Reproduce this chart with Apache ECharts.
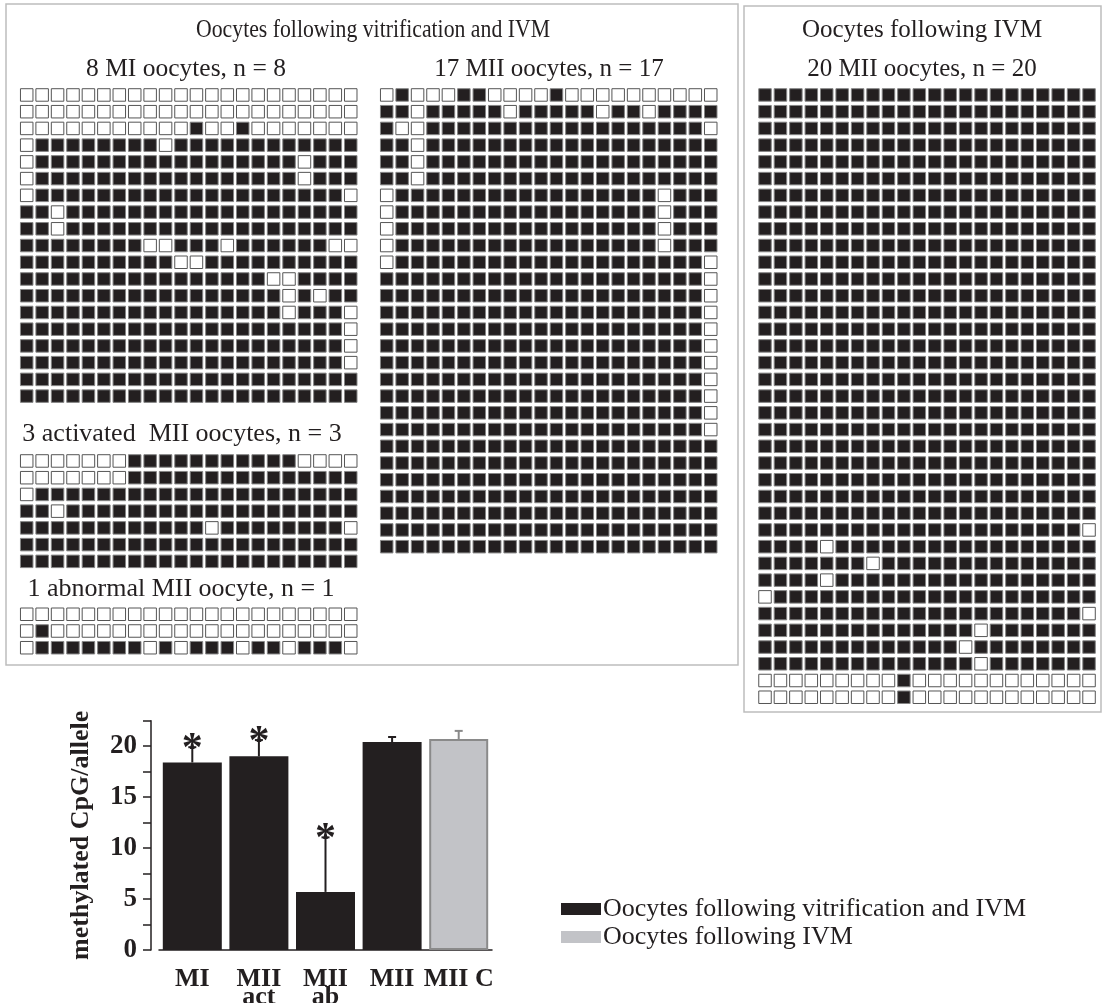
<!DOCTYPE html>
<html>
<head>
<meta charset="utf-8">
<script src="https://cdn.jsdelivr.net/npm/echarts@6/dist/echarts.min.js"></script>
<style>
  html, body { margin: 0; padding: 0; background: #fff; }
  #main { width: 1103px; height: 1003px; }
</style>
</head>
<body>
<div id="main"></div>
<script>
// 1 = methylated CpG (black), 0 = unmethylated (white); 22 CpGs per allele
var FULL = '1111111111111111111111';

var miRows = [
  '0000000000000000000000',
  '0000000000000000000000',
  '0000000000010010000000',
  '0111111110111111111111',
  '0111111111111111110111',
  '0111111111111111110111',
  '0111111111111111111110',
  '1101111111111111111111',
  '1101111111111111111111',
  '1111111100111011111100',
  '1111111111001111111111',
  '1111111111111111001111',
  '1111111111111111101011',
  '1111111111111111101110',
  '1111111111111111111110',
  '1111111111111111111110',
  '1111111111111111111110',
  FULL,
  FULL
];

var miiRows = [
  '0100011000010000000000',
  '1101111101111101101111',
  '1001111111111111111110',
  '1101111111111111111111',
  '1101111111111111111111',
  '1101111111111111111111',
  '0111111111111111110111',
  '0111111111111111110111',
  '0111111111111111110111',
  '0111111111111111110111',
  '0111111111111111111110',
  '1111111111111111111110',
  '1111111111111111111110',
  '1111111111111111111110',
  '1111111111111111111110',
  '1111111111111111111110',
  '1111111111111111111110',
  '1111111111111111111110',
  '1111111111111111111110',
  '1111111111111111111110',
  '1111111111111111111110',
  FULL, FULL, FULL, FULL, FULL, FULL, FULL
];

var actRows = [
  '0000000111111111110000',
  '0000000111111111111111',
  '0111111111111111111111',
  '1101111111111111111111',
  '1111111111110111111110',
  FULL,
  FULL
];

var abRows = [
  '0000000000000000000000',
  '0100000000000000000000',
  '0111111101011101101110'
];

var ivmRows = [
  FULL, FULL, FULL, FULL, FULL, FULL, FULL, FULL, FULL, FULL,
  FULL, FULL, FULL, FULL, FULL, FULL, FULL, FULL, FULL, FULL,
  FULL, FULL, FULL, FULL, FULL, FULL,
  '1111111111111111111110',
  '1111011111111111111111',
  '1111111011111111111111',
  '1111011111111111111111',
  '0111111111111111111111',
  '1111111111111111111110',
  '1111111111111101111111',
  '1111111111111011111111',
  '1111111111111101111111',
  '0000000001000000000000',
  '0000000001000000000000'
];

// bar chart
var barCats = ['MI', 'MII\nact', 'MII\nab', 'MII', 'MII C'];
var vitMeans = [18.4, 19.0, 5.7, 20.4, '-'];
var ivmMeans = ['-', '-', '-', '-', 20.7];
var upperErr = [19.9, 20.6, 11.05, 20.9, 21.5];
var signif = [1, 1, 1, 0, 0];

var BLACK = '#231f20';
var GRAY = '#c2c3c7';
var SERIF = '"Liberation Serif", "Times New Roman", serif';

var myChart = echarts.init(document.getElementById('main'));

// panels: rows, left, top of the grid (pixel layout)
var panels = [
  { rows: miRows, left: 19, top: 86.6 },
  { rows: miiRows, left: 379, top: 86.6 },
  { rows: ivmRows, left: 757.3, top: 86.6 },
  { rows: actRows, left: 19, top: 452.6 },
  { rows: abRows, left: 19, top: 605.9 }
];
var colW = 15.43, rowH = 16.73;

var grids = [], xAxes = [], yAxes = [], series = [];

panels.forEach(function (p, i) {
  grids.push({
    left: p.left, top: p.top, width: 22 * colW, height: p.rows.length * rowH,
    outerBoundsMode: 'none', containLabel: false
  });
  xAxes.push({ type: 'value', gridIndex: i, min: 0.5, max: 22.5, show: false });
  yAxes.push({ type: 'value', gridIndex: i, min: 0.5, max: p.rows.length + 0.5, inverse: true, show: false });
  var data = [];
  p.rows.forEach(function (row, r) {
    for (var c = 0; c < row.length; c++) {
      var on = row.charAt(c) === '1';
      data.push({
        value: [c + 1, r + 1],
        itemStyle: on
          ? { color: BLACK, borderColor: '#858585', borderWidth: 1, opacity: 1 }
          : { color: '#ffffff', borderColor: '#555555', borderWidth: 1, opacity: 1 }
      });
    }
  });
  series.push({
    type: 'scatter',
    xAxisIndex: i,
    yAxisIndex: i,
    symbol: 'rect',
    symbolSize: 12.5,
    silent: true,
    progressive: 0,
    itemStyle: { opacity: 1 },
    data: data
  });
});

// bar chart grid
var bi = panels.length;
grids.push({
  left: 159, top: 720.7, width: 333, height: 229.3,
  outerBoundsMode: 'none', containLabel: false
});
xAxes.push({
  type: 'category',
  gridIndex: bi,
  data: barCats,
  axisLine: { lineStyle: { color: BLACK, width: 1.5 } },
  axisTick: { alignWithLabel: true, length: 6, lineStyle: { color: BLACK, width: 1.5 } },
  axisLabel: {
    color: BLACK, fontFamily: SERIF, fontWeight: 'bold', fontSize: 26,
    lineHeight: 18, margin: 20, interval: 0
  }
});
yAxes.push({
  type: 'value',
  gridIndex: bi,
  min: 0,
  max: 22.5,
  interval: 2.5,
  offset: 8,
  splitLine: { show: false },
  axisLine: { show: true, lineStyle: { color: BLACK, width: 1.5 } },
  axisTick: { show: true, length: 8, lineStyle: { color: BLACK, width: 1.5 } },
  axisLabel: {
    color: BLACK, fontFamily: SERIF, fontWeight: 'bold', fontSize: 27, margin: 14,
    formatter: function (v) { return v % 5 === 0 ? String(v) : ''; }
  },
  name: 'methylated CpG/allele',
  nameLocation: 'middle',
  nameGap: 57,
  nameTextStyle: { color: BLACK, fontFamily: SERIF, fontWeight: 'bold', fontSize: 26 }
});

series.push({
  name: 'Oocytes following vitrification and IVM',
  type: 'bar',
  xAxisIndex: bi, yAxisIndex: bi,
  barWidth: 59,
  barGap: '-100%',
  itemStyle: { color: BLACK },
  data: vitMeans
});
series.push({
  name: 'Oocytes following IVM',
  type: 'bar',
  xAxisIndex: bi, yAxisIndex: bi,
  barWidth: 59,
  barGap: '-100%',
  itemStyle: { color: GRAY, borderColor: '#8a8a8a', borderWidth: 2 },
  data: ivmMeans
});

var errData = barCats.map(function (c, i) {
  var m = vitMeans[i] === '-' ? ivmMeans[i] : vitMeans[i];
  return [i, m, upperErr[i], signif[i]];
});

series.push({
  type: 'custom',
  xAxisIndex: bi, yAxisIndex: bi,
  silent: true,
  z: 5,
  encode: { x: 0, y: [1, 2] },
  renderItem: function (params, api) {
    var i = api.value(0);
    var base = api.coord([i, api.value(1)]);
    var top = api.coord([i, api.value(2)]);
    var col = vitMeans[i] === '-' ? '#8a8a8a' : BLACK;
    var ls = { stroke: col, lineWidth: 2 };
    var kids = [
      { type: 'line', shape: { x1: base[0], y1: base[1], x2: top[0], y2: top[1] }, style: ls },
      { type: 'line', shape: { x1: top[0] - 4, y1: top[1], x2: top[0] + 4, y2: top[1] }, style: ls }
    ];
    if (api.value(3)) {
      kids.push({
        type: 'text',
        style: {
          text: '*', x: top[0], y: top[1] + 3, fill: BLACK,
          font: 'bold 42px ' + SERIF, align: 'center', verticalAlign: 'middle'
        }
      });
    }
    return { type: 'group', children: kids };
  },
  data: errData
});

function label(text, x, y, size, sx) {
  return {
    type: 'text', x: x, y: y, silent: true,
    scaleX: sx || 1,
    style: {
      text: text, fill: BLACK, font: (size || 25) + 'px ' + SERIF,
      align: 'center', verticalAlign: 'middle'
    }
  };
}

option = {
  animation: false,
  backgroundColor: '#fff',
  grid: grids,
  xAxis: xAxes,
  yAxis: yAxes,
  legend: {
    orient: 'vertical',
    left: 556,
    top: 891,
    itemWidth: 40,
    itemHeight: 12,
    itemGap: 2,
    icon: 'rect',
    selectedMode: false,
    itemStyle: { borderWidth: 0 },
    textStyle: { color: BLACK, fontFamily: SERIF, fontSize: 26, lineHeight: 26, padding: [0, 0, 0, -3] },
    data: ['Oocytes following vitrification and IVM', 'Oocytes following IVM']
  },
  graphic: [
    { type: 'rect', shape: { x: 6, y: 4, width: 732, height: 661 }, style: { fill: 'none', stroke: '#bdbdbd', lineWidth: 1.5 }, silent: true },
    { type: 'rect', shape: { x: 744, y: 6, width: 357, height: 706 }, style: { fill: 'none', stroke: '#bdbdbd', lineWidth: 1.5 }, silent: true },
    label('Oocytes following vitrification and IVM', 373, 30, 25, 0.87),
    label('8 MI oocytes, n = 8', 186, 69, 25.5),
    label('17 MII oocytes, n = 17', 549, 69, 25),
    label('Oocytes following IVM', 922, 30, 25),
    label('20 MII oocytes, n = 20', 922, 69, 25),
    label('3 activated  MII oocytes, n = 3', 182, 434, 26),
    label('1 abnormal MII oocyte, n = 1', 181, 589, 26)
  ],
  series: series
};
myChart.setOption(option);
</script>
</body>
</html>
